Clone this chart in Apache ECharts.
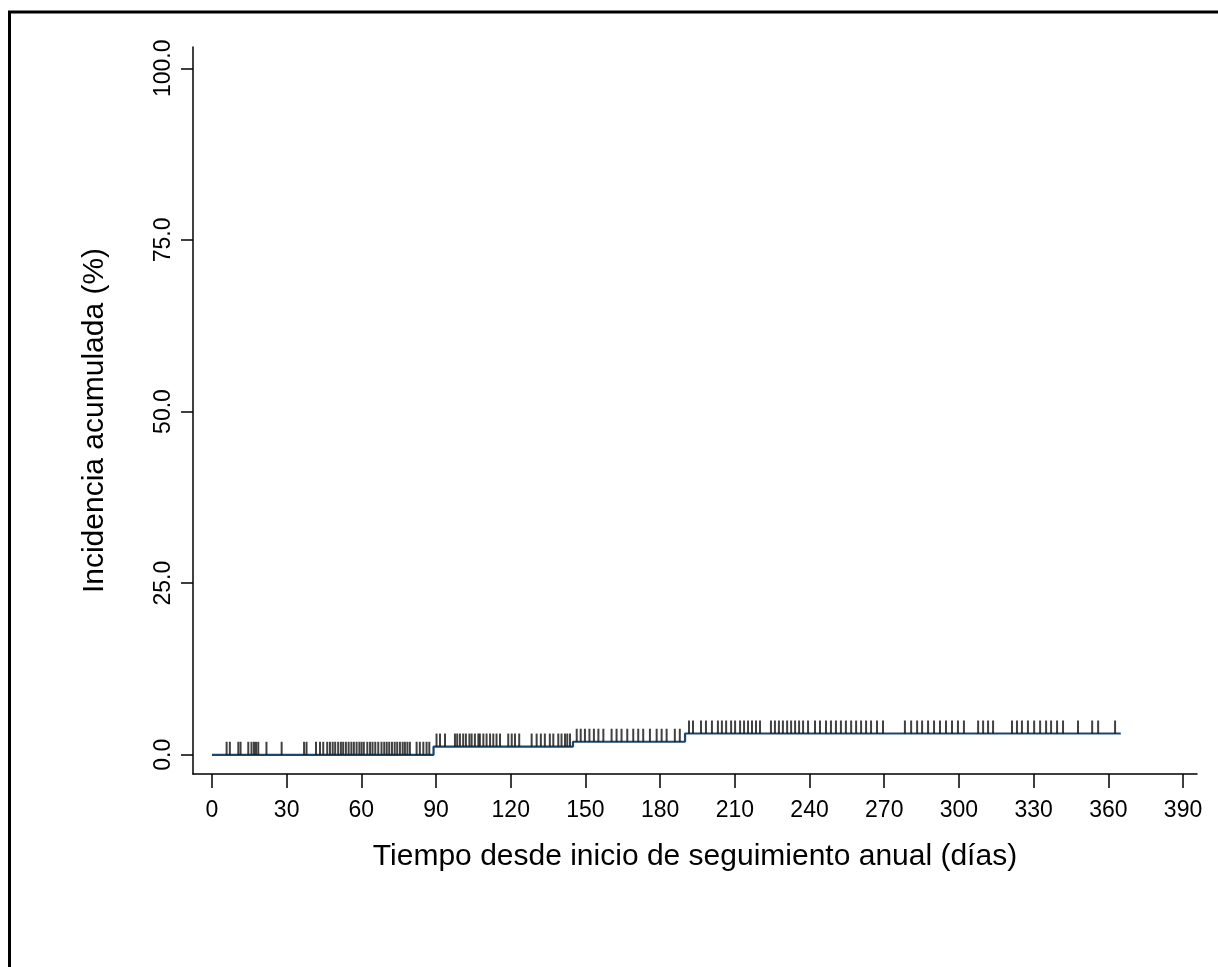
<!DOCTYPE html>
<html>
<head>
<meta charset="utf-8">
<script src="https://cdn.jsdelivr.net/npm/echarts@6/dist/echarts.min.js"></script>
<style>
  html, body { margin: 0; padding: 0; background: #fff; }
  #chart { width: 1218px; height: 967px; }
</style>
</head>
<body>
<div id="chart"></div>
<script>
// ---- data ----
const xTickValues = [0, 30, 60, 90, 120, 150, 180, 210, 240, 270, 300, 330, 360, 390];
const yTickValues = [0, 25, 50, 75, 100];
const xAxisTitle = 'Tiempo desde inicio de seguimiento anual (días)';
const yAxisTitle = 'Incidencia acumulada (%)';

// step function: time (days) where the cumulative incidence changes, and new value (%)
const stepTimes = [0, 89, 145, 190, 365];
const stepValues = [0, 1.2, 1.9, 3.1, 3.1];

// censored observation times (days)
const censorTimes = [
  5.9, 7.2, 10.6, 11.5, 14.6, 15.9, 16.9, 17.7, 18.6, 21.9, 28.0,
  37.0, 38.0, 41.8, 43.4, 44.7, 46.3, 47.4, 48.5, 49.5, 50.7, 51.8, 52.7, 53.8,
  54.9, 56.0, 57.0, 58.1, 59.2, 60.1, 61.0, 62.4, 63.5, 64.5, 65.6, 66.8, 68.1,
  69.2, 70.2, 71.2, 72.3, 73.4, 74.4, 75.5, 76.6, 77.5, 78.5, 79.5, 82.2, 83.5,
  84.9, 86.2, 87.3,
  90.2, 91.6, 93.6, 97.6, 98.5, 99.6, 100.9, 102.0, 103.4, 104.3, 105.6, 107.0,
  107.6, 109.0, 110.3, 111.7, 113.0, 114.3, 115.7, 119.0, 120.4, 121.7, 123.4,
  128.4, 130.4, 132.1, 133.7, 135.7, 137.1, 139.1, 140.4, 141.8, 142.7, 143.8,
  146.5, 148.1, 149.8, 151.6, 153.4, 155.2, 157.2, 160.5, 162.5, 164.5, 166.8,
  169.2, 171.2, 173.2, 175.9, 178.6, 180.6, 182.6, 185.9, 187.9,
  191.6, 193.2, 196.4, 198.4, 200.8, 203.2, 204.8, 206.5, 208.5, 210.1, 212.1,
  213.7, 215.3, 216.9, 218.5, 220.1, 224.5, 226.1, 227.7, 229.3, 231.0, 232.6,
  234.2, 235.8, 237.4, 239.4, 242.2, 244.2, 246.6, 248.6, 250.6, 252.6, 254.6,
  256.7, 258.7, 260.7, 262.7, 264.7, 267.1, 269.5, 278.3, 280.8, 283.2, 285.2,
  287.6, 290.0, 292.4, 294.8, 297.2, 299.6, 302.0, 307.7, 309.7, 311.7, 313.7,
  321.3, 323.3, 325.3, 327.7, 330.2, 332.6, 335.0, 337.0, 339.4, 341.8, 347.8,
  353.5, 355.9, 362.7
];

// ---- build ----
function levelAt(t) {
  let v = stepValues[0];
  for (let i = 0; i < stepTimes.length; i++) {
    if (stepTimes[i] <= t) v = stepValues[i];
  }
  return v;
}
const stepData = stepTimes.map((t, i) => [t, stepValues[i]]);
const censorData = censorTimes.map(t => [t, levelAt(t)]);

const FONT = '"Liberation Sans", Arial, Helvetica, sans-serif';

const chart = echarts.init(document.getElementById('chart'), null, { renderer: 'canvas' });
chart.setOption({
  backgroundColor: '#ffffff',
  animation: false,
  graphic: [{
    type: 'rect',
    shape: { x: 9.5, y: 12, width: 1400, height: 1100 },
    style: { fill: 'none', stroke: '#000', lineWidth: 3 },
    silent: true
  }],
  grid: { left: 193, right: 21, top: 47, bottom: 193, containLabel: false },
  xAxis: {
    type: 'value',
    min: -7.6,
    max: 395.6,
    name: xAxisTitle,
    nameLocation: 'middle',
    nameGap: 68,
    nameTextStyle: { fontFamily: FONT, fontSize: 30, color: '#000' },
    axisLine: { show: true, onZero: false, lineStyle: { color: '#000', width: 1.5 } },
    axisTick: { show: true, length: 14, customValues: xTickValues, lineStyle: { color: '#000', width: 1.5 } },
    axisLabel: { customValues: xTickValues, margin: 25, fontFamily: FONT, fontSize: 23, color: '#000' },
    splitLine: { show: false }
  },
  yAxis: {
    type: 'value',
    min: -2.8,
    max: 103.1,
    name: yAxisTitle,
    nameLocation: 'middle',
    nameGap: 83,
    nameRotate: 90,
    nameTextStyle: { fontFamily: FONT, fontSize: 30, color: '#000', padding: [0, 20, 0, 0] },
    axisLine: { show: true, onZero: false, lineStyle: { color: '#000', width: 1.5 } },
    axisTick: { show: true, length: 12, customValues: yTickValues, lineStyle: { color: '#000', width: 1.5 } },
    axisLabel: {
      customValues: yTickValues, rotate: 90, margin: 18,
      fontFamily: FONT, fontSize: 23, color: '#000',
      formatter: v => Number(v).toFixed(1)
    },
    splitLine: { show: false }
  },
  series: [
    {
      type: 'line',
      step: 'end',
      data: stepData,
      showSymbol: false,
      lineStyle: { color: '#1a476f', width: 2.2 },
      z: 2
    },
    {
      type: 'scatter',
      data: censorData,
      symbol: 'rect',
      symbolSize: [2, 13],
      symbolOffset: [0, -6.5],
      itemStyle: { color: '#111' },
      z: 3
    }
  ]
});
</script>
</body>
</html>
